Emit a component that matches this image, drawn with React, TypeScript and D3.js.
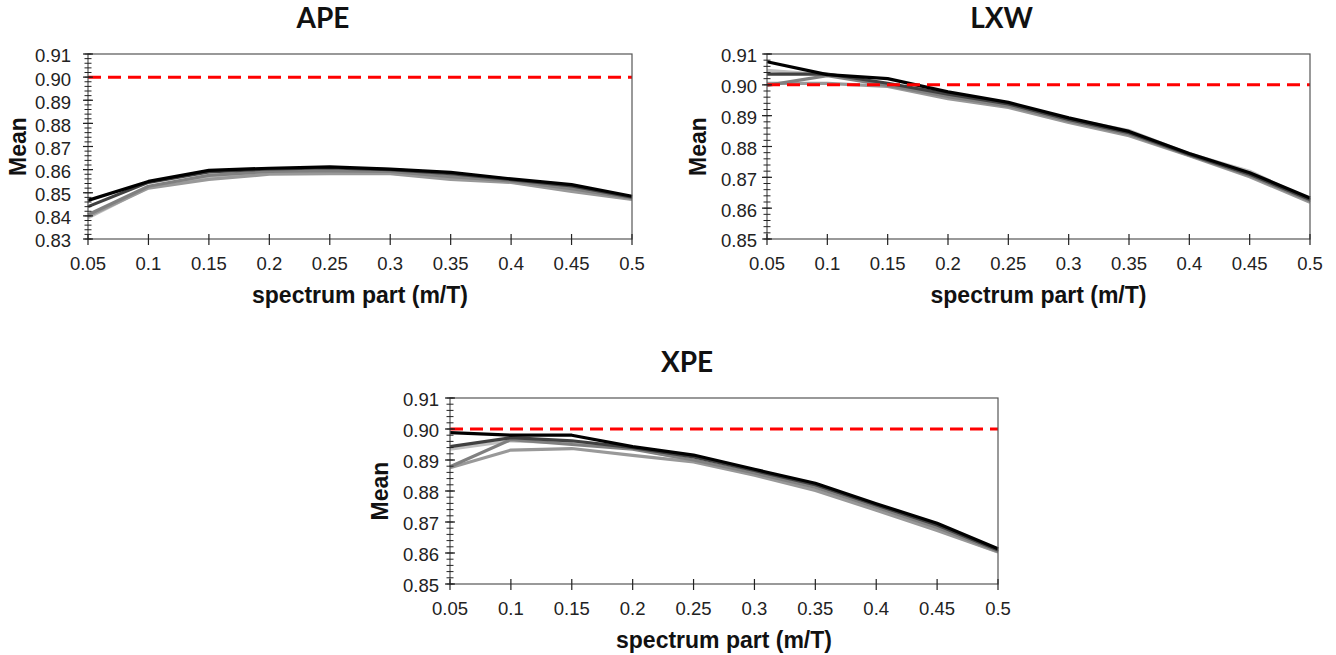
import React from 'react'
import { scaleLinear, line, range, format } from 'd3'

const xValues = [0.05, 0.1, 0.15, 0.2, 0.25, 0.3, 0.35, 0.4, 0.45, 0.5]
const xTickLabels = ['0.05', '0.1', '0.15', '0.2', '0.25', '0.3', '0.35', '0.4', '0.45', '0.5']
const seriesColors = ['#000000', '#404040', '#808080', '#999999', '#c0c0c0']
const nominal = 0.9

// APE
const apeS1 = [0.8467, 0.8549, 0.8597, 0.8606, 0.8612, 0.8602, 0.8588, 0.8560, 0.8535, 0.8485]
const apeS2 = [0.8440, 0.8545, 0.8590, 0.8603, 0.8607, 0.8600, 0.8583, 0.8557, 0.8530, 0.8481]
const apeS3 = [0.8405, 0.8528, 0.8575, 0.8592, 0.8594, 0.8592, 0.8570, 0.8551, 0.8518, 0.8477]
const apeS4 = [0.8398, 0.8520, 0.8558, 0.8580, 0.8583, 0.8583, 0.8558, 0.8545, 0.8506, 0.8471]
const apeS5 = [0.8392, 0.8524, 0.8564, 0.8584, 0.8587, 0.8585, 0.8563, 0.8547, 0.8510, 0.8473]
const apeYTicks = [0.83, 0.84, 0.85, 0.86, 0.87, 0.88, 0.89, 0.9, 0.91]

// LXW
const lxwS1 = [0.9075, 0.9033, 0.9020, 0.8977, 0.8943, 0.8893, 0.8849, 0.8777, 0.8715, 0.8633]
const lxwS2 = [0.9035, 0.9035, 0.9005, 0.8970, 0.8938, 0.8888, 0.8845, 0.8774, 0.8710, 0.8628]
const lxwS3 = [0.8998, 0.9030, 0.8998, 0.8962, 0.8932, 0.8883, 0.8840, 0.8772, 0.8706, 0.8624]
const lxwS4 = [0.9005, 0.9005, 0.8995, 0.8955, 0.8927, 0.8878, 0.8835, 0.8770, 0.8702, 0.8619]
const lxwS5 = [0.9047, 0.9032, 0.9000, 0.8965, 0.8940, 0.8890, 0.8852, 0.8776, 0.8720, 0.8626]
const lxwYTicks = [0.85, 0.86, 0.87, 0.88, 0.89, 0.9, 0.91]

// XPE
const xpeS1 = [0.8988, 0.8980, 0.8980, 0.8943, 0.8916, 0.8870, 0.8825, 0.8759, 0.8696, 0.8614]
const xpeS2 = [0.8943, 0.8972, 0.8962, 0.8940, 0.8910, 0.8866, 0.8820, 0.8755, 0.8690, 0.8610]
const xpeS3 = [0.8878, 0.8966, 0.8950, 0.8935, 0.8900, 0.8858, 0.8812, 0.8748, 0.8682, 0.8606]
const xpeS4 = [0.8875, 0.8932, 0.8937, 0.8915, 0.8894, 0.8851, 0.8802, 0.8738, 0.8673, 0.8603]
const xpeS5 = [0.8935, 0.8962, 0.8955, 0.8938, 0.8898, 0.8855, 0.8806, 0.8742, 0.8676, 0.8604]
const xpeYTicks = [0.85, 0.86, 0.87, 0.88, 0.89, 0.9, 0.91]

const labelFont = '"Liberation Sans", Arial, sans-serif'
const fmtY = format('.2f')

type PanelProps = {
  title: string
  left: number
  right: number
  top: number
  bottom: number
  yTicks: number[]
  series: number[][]
  meanX: number
  labelGap: number
}

function Panel({ title, left, right, top, bottom, yTicks, series, meanX, labelGap }: PanelProps) {
  const x = scaleLinear().domain([xValues[0], xValues[xValues.length - 1]]).range([left, right])
  const y = scaleLinear().domain([yTicks[0], yTicks[yTicks.length - 1]]).range([bottom, top])
  const lineGen = line<number>().x((d, i) => x(xValues[i])).y(d => y(d))

  // minor ticks every 0.002
  const nMinor = Math.round((yTicks[yTicks.length - 1] - yTicks[0]) / 0.002)
  const minor = range(0, nMinor + 1).map(i => yTicks[0] + i * 0.002)
  const cx = (left + right) / 2
  const cy = (top + bottom) / 2

  return (
    <g>
      <text x={cx - 37} y={top - 26} textAnchor='middle' fontFamily='Lato, sans-serif' fontWeight='bold' fontSize={28} fill='#111'>{title}</text>

      {/* lines, lightest first */}
      {series.map((s, i) => i).reverse().map(i => (
        <path key={i} d={lineGen(series[i]) || ''} fill='none' stroke={seriesColors[i]} strokeWidth={3.2} strokeLinejoin='round' />
      ))}

      <line x1={x(xValues[0])} x2={x(xValues[xValues.length - 1])} y1={y(nominal)} y2={y(nominal)}
        stroke='#ff0000' strokeWidth={3} strokeDasharray='13 7' />

      <rect x={left} y={top} width={right - left} height={bottom - top} fill='none' stroke='#555' strokeWidth={1.2} />

      {minor.map((d, i) => (
        <line key={'m' + i} x1={left - 3.5} x2={left + 3.5} y1={y(d)} y2={y(d)} stroke='#222' strokeWidth={1} />
      ))}
      {yTicks.map((d, i) => (
        <g key={'y' + i}>
          <line x1={left - 5} x2={left + 5} y1={y(d)} y2={y(d)} stroke='#222' strokeWidth={1.2} />
          <text x={left - labelGap} y={y(d) + 2} dy='0.35em' textAnchor='end' fontFamily={labelFont} fontSize={18.5} fill='#222'>{fmtY(d)}</text>
        </g>
      ))}
      {xValues.map((d, i) => (
        <g key={'x' + i}>
          <line x1={x(d)} x2={x(d)} y1={bottom - 5} y2={bottom + 6} stroke='#222' strokeWidth={1.2} />
          <text x={x(d)} y={bottom + 31} textAnchor='middle' fontFamily={labelFont} fontSize={18.5} fill='#222'>{xTickLabels[i]}</text>
        </g>
      ))}

      <text x={cx} y={bottom + 64} textAnchor='middle' fontFamily={labelFont} fontWeight='bold' fontSize={23} fill='#111'>spectrum part (m/T)</text>
      <text transform={`translate(${meanX},${cy}) rotate(-90)`} textAnchor='middle' fontFamily={labelFont} fontWeight='bold' fontSize={23} fill='#111'>Mean</text>
    </g>
  )
}

function App() {
  const width = 1336,
    height = 655

  return (
    <div style={{ position: 'absolute', left: 0, top: 0 }}>
      <svg width={width} height={height} style={{ display: 'block', background: '#fff' }}>
        <Panel title='APE' left={88} right={632} top={54} bottom={239} yTicks={apeYTicks}
          series={[apeS1, apeS2, apeS3, apeS4, apeS5]} meanX={26} labelGap={17} />
        <Panel title='LXW' left={767} right={1310} top={54} bottom={239} yTicks={lxwYTicks}
          series={[lxwS1, lxwS2, lxwS3, lxwS4, lxwS5]} meanX={706} labelGap={10} />
        <Panel title='XPE' left={450} right={998} top={398} bottom={584} yTicks={xpeYTicks}
          series={[xpeS1, xpeS2, xpeS3, xpeS4, xpeS5]} meanX={388} labelGap={11} />
      </svg>
    </div>
  )
}

export default App
